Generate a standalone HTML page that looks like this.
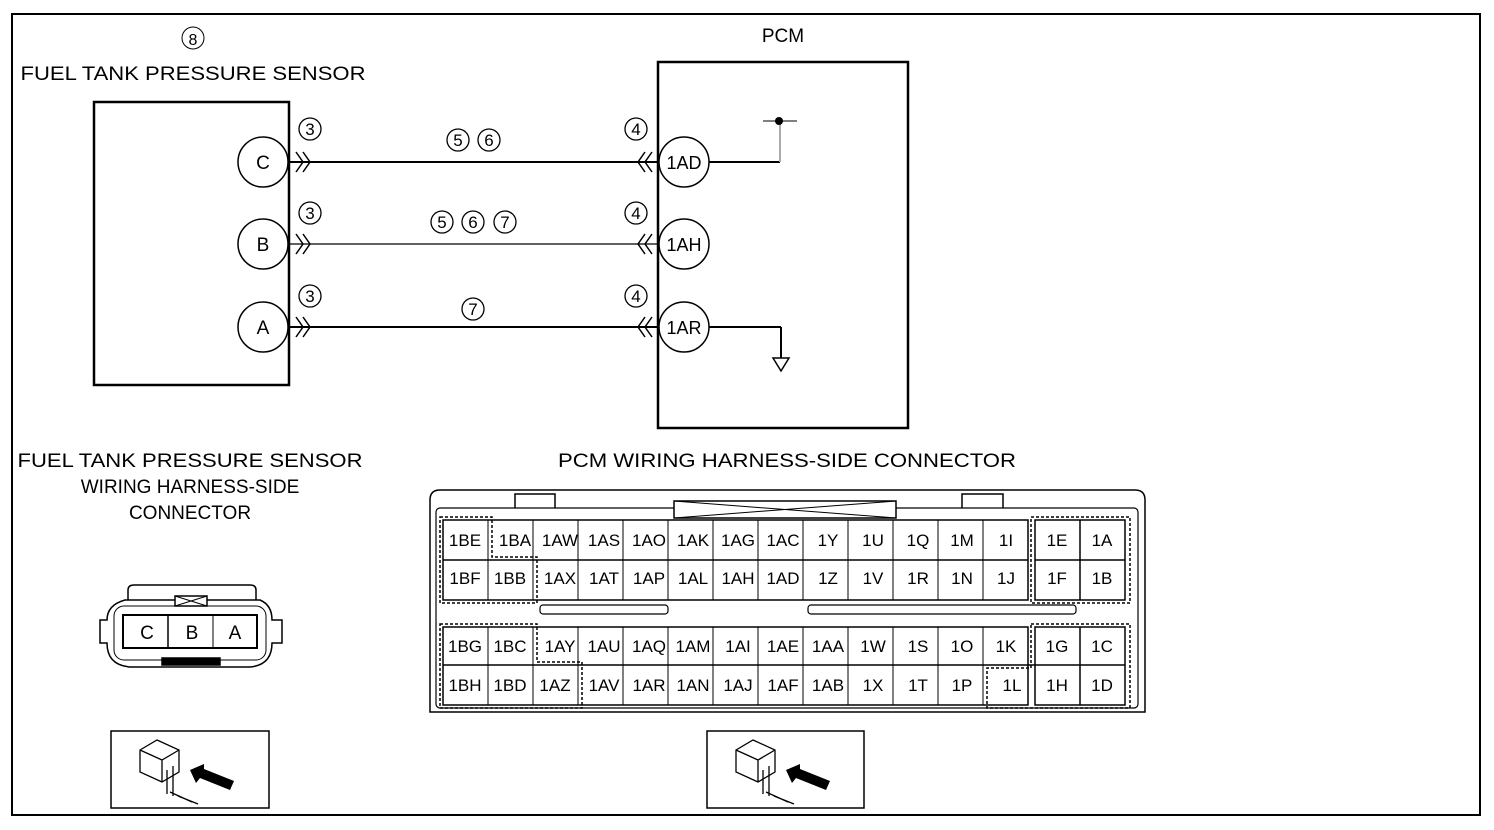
<!DOCTYPE html><html><head><meta charset="utf-8"><style>body{margin:0;background:#fff}svg{display:block}text{font-family:"Liberation Sans",sans-serif;fill:#000}</style></head><body>
<svg width="1494" height="830" viewBox="0 0 1494 830" xmlns="http://www.w3.org/2000/svg">
<rect x="12" y="14" width="1468" height="801" fill="none" stroke="#000" stroke-width="2"/>
<g font-size="19" text-anchor="middle">
<circle cx="193" cy="38" r="11" fill="none" stroke="#000"/><text x="193" y="45" font-size="16">8</text>
<text x="193" y="80" textLength="345" lengthAdjust="spacingAndGlyphs">FUEL TANK PRESSURE SENSOR</text>
<text x="783" y="42">PCM</text>
</g>
<rect x="94" y="102" width="195" height="283" fill="none" stroke="#000" stroke-width="2.5"/>
<rect x="658" y="62" width="250" height="366" fill="none" stroke="#000" stroke-width="2.5"/>
<g fill="#fff" stroke="#000" stroke-width="1.5">
<circle cx="263" cy="162" r="25"/><circle cx="263" cy="244" r="25"/><circle cx="263" cy="327" r="25"/>
<circle cx="684" cy="162" r="25"/><circle cx="684" cy="244" r="25"/><circle cx="684" cy="327" r="25"/>
</g>
<g font-size="19" text-anchor="middle">
<text x="263" y="169">C</text><text x="263" y="251">B</text><text x="263" y="334">A</text>
<text x="684" y="169" font-size="18">1AD</text><text x="684" y="251" font-size="18">1AH</text><text x="684" y="334" font-size="18">1AR</text>
</g>
<g stroke="#000" fill="none" stroke-width="2">
<line x1="289" y1="162" x2="658" y2="162"/><line x1="289" y1="244" x2="658" y2="244" stroke-width="1.2"/><line x1="289" y1="327" x2="658" y2="327"/>
<line x1="709" y1="162" x2="780" y2="162"/><line x1="780" y1="162" x2="780" y2="121" stroke="#aaa"/>
<line x1="763" y1="121" x2="797" y2="121" stroke-width="1"/>
<line x1="709" y1="327" x2="781" y2="327"/><line x1="781" y1="327" x2="781" y2="358"/>
<path d="M773 358 L789 358 L781 371 Z" stroke-width="1.5"/>
</g>
<circle cx="779" cy="121" r="4"/>
<g stroke="#000" fill="none" stroke-width="1.5">
<path d="M296 152 l7 10 l-7 10 M303 152 l7 10 l-7 10"/>
<path d="M296 234 l7 10 l-7 10 M303 234 l7 10 l-7 10"/>
<path d="M296 317 l7 10 l-7 10 M303 317 l7 10 l-7 10"/>
<path d="M645 152 l-7 10 l7 10 M652 152 l-7 10 l7 10"/>
<path d="M645 234 l-7 10 l7 10 M652 234 l-7 10 l7 10"/>
<path d="M645 317 l-7 10 l7 10 M652 317 l-7 10 l7 10"/>
</g>
<g fill="none" stroke="#000" stroke-width="1.3">
<circle cx="310" cy="129" r="11"/><circle cx="310" cy="213" r="11"/><circle cx="310" cy="296" r="11"/>
<circle cx="636" cy="129" r="11"/><circle cx="636" cy="213" r="11"/><circle cx="636" cy="296" r="11"/>
<circle cx="458" cy="140" r="11"/><circle cx="489" cy="140" r="11"/>
<circle cx="442" cy="222" r="11"/><circle cx="473" cy="222" r="11"/><circle cx="505" cy="222" r="11"/>
<circle cx="473" cy="309" r="11"/>
</g>
<g font-size="17" text-anchor="middle">
<text x="310" y="135">3</text><text x="310" y="219">3</text><text x="310" y="302">3</text>
<text x="636" y="135">4</text><text x="636" y="219">4</text><text x="636" y="302">4</text>
<text x="458" y="146">5</text><text x="489" y="146">6</text>
<text x="442" y="228">5</text><text x="473" y="228">6</text><text x="505" y="228">7</text>
<text x="473" y="315">7</text>
</g>
<g font-size="19" text-anchor="middle">
<text x="190" y="467" textLength="345" lengthAdjust="spacingAndGlyphs">FUEL TANK PRESSURE SENSOR</text>
<text x="190" y="493">WIRING HARNESS-SIDE</text>
<text x="190" y="519">CONNECTOR</text>
<text x="787" y="467" textLength="458" lengthAdjust="spacingAndGlyphs">PCM WIRING HARNESS-SIDE CONNECTOR</text>
</g>
<!-- small connector -->
<g fill="none" stroke="#000" stroke-width="1.5">
<path d="M128 600 L128 590 Q128 585 134 585 L250 585 Q256 585 256 590 L256 600"/>
<path d="M125 600 L260 600 Q272 605 272 620 L282 620 L282 643 L272 643 Q272 665 250 667 L130 667 Q107 665 107 643 L100 643 L100 620 L107 620 Q107 605 125 600 Z"/>
<rect x="114" y="606" width="152" height="54" rx="10" stroke-width="1"/>
<rect x="123" y="615" width="134" height="33" stroke-width="2"/>
<line x1="168" y1="615" x2="168" y2="648"/><line x1="213" y1="615" x2="213" y2="648" stroke-width="1"/>
<rect x="175" y="596" width="32" height="10" fill="#fff"/><path d="M175 596 L207 606 M207 596 L175 606" stroke-width="1"/>
<rect x="162" y="658" width="58" height="7" fill="#000"/>
</g>
<g font-size="19" text-anchor="middle"><text x="147" y="639">C</text><text x="192" y="639">B</text><text x="235" y="639">A</text></g>
<!-- icons -->
<rect x="111" y="731" width="158" height="77" fill="none" stroke="#000" stroke-width="1.5"/>
<rect x="707" y="731" width="157" height="77" fill="none" stroke="#000" stroke-width="1.5"/>
<g fill="none" stroke="#000" stroke-width="1.3">
<path d="M140 750 l17 -10 l22 10 l0 22 l-17 10 l-22 -10 Z M140 750 l22 10 l17 -10 M162 760 l0 22"/>
<path d="M167 770 l0 24 M173 766 l0 30 M170 792 l22 10 M178 796 l20 8"/>
<path d="M736 750 l17 -10 l22 10 l0 22 l-17 10 l-22 -10 Z M736 750 l22 10 l17 -10 M758 760 l0 22"/>
<path d="M763 770 l0 24 M769 766 l0 30 M766 792 l22 10 M774 796 l20 8"/>
</g>
<path d="M190 770 l14 -6 l0 5 l30 12 l-4 9 l-30 -12 l-4 5 Z" fill="#000"/>
<path d="M786 770 l14 -6 l0 5 l30 12 l-4 9 l-30 -12 l-4 5 Z" fill="#000"/>
<!-- PCM connector -->
<g fill="none" stroke="#000">
<path d="M430 500 Q430 490 440 490 L1135 490 Q1145 490 1145 500 L1145 712 L430 712 Z" stroke-width="1.5"/>
<rect x="436" y="508" width="702" height="200" rx="4" stroke-width="1.2"/>
<path d="M515 508 L515 494 L555 494 L555 508 M962 508 L962 494 L1003 494 L1003 508" stroke-width="1.5"/>
<rect x="674" y="501" width="222" height="17" fill="#fff" stroke-width="1.5"/>
<path d="M674 501 L896 518 M896 501 L674 518" stroke-width="1"/>
<rect x="540" y="605" width="128" height="9" rx="3" stroke-width="1.2"/>
<rect x="808" y="605" width="268" height="9" rx="3" stroke-width="1.2"/>
<g stroke-width="1.5">
<rect x="443" y="520" width="585" height="80"/><line x1="443" y1="560" x2="1028" y2="560"/>
<rect x="1035" y="520" width="90" height="80"/><line x1="1035" y1="560" x2="1125" y2="560"/><line x1="1080" y1="520" x2="1080" y2="600"/>
<rect x="443" y="627" width="585" height="78"/><line x1="443" y1="665" x2="1125" y2="665"/>
<rect x="1035" y="627" width="90" height="78"/><line x1="1080" y1="627" x2="1080" y2="705"/>
</g>
<g stroke-width="1">
<path d="M488 520 V600 M533 520 V600 M578 520 V600 M623 520 V600 M668 520 V600 M713 520 V600 M758 520 V600 M803 520 V600 M848 520 V600 M893 520 V600 M938 520 V600 M983 520 V600"/>
<path d="M488 627 V705 M533 627 V705 M578 627 V705 M623 627 V705 M668 627 V705 M713 627 V705 M758 627 V705 M803 627 V705 M848 627 V705 M893 627 V705 M938 627 V705 M983 627 V705"/>
</g>
<g stroke-dasharray="3,2" stroke-width="1.5">
<path d="M440 517 L492 517 L492 557 L537 557 L537 603 L440 603 Z"/>
<path d="M1031 517 L1130 517 L1130 603 L1031 603 Z"/>
<path d="M440 624 L537 624 L537 662 L582 662 L582 708 L440 708 Z"/>
<path d="M1031 624 L1130 624 L1130 708 L987 708 L987 668 L1031 668 Z"/>
</g>
</g>
<g font-size="17" text-anchor="middle">
<text x="465" y="546">1BE</text><text x="515" y="546">1BA</text><text x="560" y="546">1AW</text><text x="604" y="546">1AS</text><text x="649" y="546">1AO</text><text x="693" y="546">1AK</text><text x="738" y="546">1AG</text><text x="783" y="546">1AC</text><text x="828" y="546">1Y</text><text x="873" y="546">1U</text><text x="918" y="546">1Q</text><text x="962" y="546">1M</text><text x="1006" y="546">1I</text><text x="1057" y="546">1E</text><text x="1102" y="546">1A</text>
<text x="465" y="584">1BF</text><text x="510" y="584">1BB</text><text x="560" y="584">1AX</text><text x="604" y="584">1AT</text><text x="649" y="584">1AP</text><text x="693" y="584">1AL</text><text x="738" y="584">1AH</text><text x="783" y="584">1AD</text><text x="828" y="584">1Z</text><text x="873" y="584">1V</text><text x="918" y="584">1R</text><text x="962" y="584">1N</text><text x="1006" y="584">1J</text><text x="1057" y="584">1F</text><text x="1102" y="584">1B</text>
<text x="465" y="652">1BG</text><text x="510" y="652">1BC</text><text x="560" y="652">1AY</text><text x="604" y="652">1AU</text><text x="649" y="652">1AQ</text><text x="693" y="652">1AM</text><text x="738" y="652">1AI</text><text x="783" y="652">1AE</text><text x="828" y="652">1AA</text><text x="873" y="652">1W</text><text x="918" y="652">1S</text><text x="962" y="652">1O</text><text x="1006" y="652">1K</text><text x="1057" y="652">1G</text><text x="1102" y="652">1C</text>
<text x="465" y="691">1BH</text><text x="510" y="691">1BD</text><text x="555" y="691">1AZ</text><text x="604" y="691">1AV</text><text x="649" y="691">1AR</text><text x="693" y="691">1AN</text><text x="738" y="691">1AJ</text><text x="783" y="691">1AF</text><text x="828" y="691">1AB</text><text x="873" y="691">1X</text><text x="918" y="691">1T</text><text x="962" y="691">1P</text><text x="1012" y="691">1L</text><text x="1057" y="691">1H</text><text x="1102" y="691">1D</text>
</g>
</svg>
</body></html>
